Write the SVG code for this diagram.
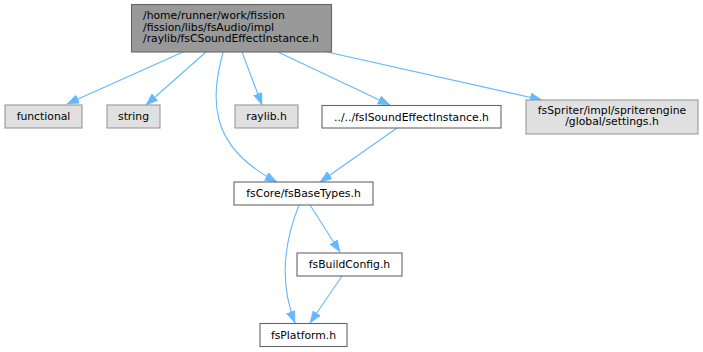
<svg xmlns="http://www.w3.org/2000/svg" width="703" height="352" viewBox="0 0 703 352">
<style>
text{font-family:"DejaVu Sans","Liberation Sans",sans-serif;font-size:10.8px;fill:#000}
.c{text-anchor:middle}
.top{fill:#999999;stroke:#666666;stroke-width:1.1}
.gray{fill:#e0e0e0;stroke:#999999;stroke-width:1.1}
.white{fill:#ffffff;stroke:#666666;stroke-width:1.1}
.e{fill:none;stroke:#63b8ff;stroke-width:1.1;marker-end:url(#a)}
</style>
<defs>
<marker id="a" markerUnits="userSpaceOnUse" markerWidth="13" markerHeight="10" refX="12" refY="4.5" orient="auto">
<path d="M0,0 L12,4.5 L0,9 z" fill="#63b8ff" stroke="#63b8ff" stroke-width="0.5"/>
</marker>
</defs>
<rect width="703" height="352" fill="#ffffff"/>
<g id="connectors">
<path class="e" d="M183,52 L67,104"/>
<path class="e" d="M206,52 L146,105"/>
<path class="e" d="M223,52 C212,95 205,145 277,182"/>
<path class="e" d="M242,52 L262,105"/>
<path class="e" d="M278,52 L390,105"/>
<path class="e" d="M327,52 L542,100"/>
<path class="e" d="M397,128 L320,182"/>
<path class="e" d="M310,205 L340,252"/>
<path class="e" d="M299,205 C285,240 278,280 295,323"/>
<path class="e" d="M342,276 L310,323"/>
</g>
<g id="node-main">
<rect class="top" x="131.5" y="4.5" width="200" height="47.5"/>
<text x="143" y="19">/home/runner/work/fission</text>
<text x="143" y="30.5">/fission/libs/fsAudio/impl</text>
<text x="143" y="42">/raylib/fsCSoundEffectInstance.h</text>
</g>
<g id="node-functional">
<rect class="gray" x="5" y="105" width="77" height="23"/>
<text class="c" x="43.5" y="120">functional</text>
</g>
<g id="node-string">
<rect class="gray" x="107" y="105" width="53" height="23"/>
<text class="c" x="133.5" y="120">string</text>
</g>
<g id="node-raylib">
<rect class="gray" x="235" y="105" width="63" height="23"/>
<text class="c" x="266.5" y="120">raylib.h</text>
</g>
<g id="node-fsISoundEffectInstance">
<rect class="white" x="322" y="105.5" width="179" height="22.5"/>
<text class="c" x="411.5" y="120.5">../../fsISoundEffectInstance.h</text>
</g>
<g id="node-settings">
<rect class="gray" x="526" y="100" width="172" height="34"/>
<text class="c" x="612" y="113.5">fsSpriter/impl/spriterengine</text>
<text class="c" x="612" y="125">/global/settings.h</text>
</g>
<g id="node-fsBaseTypes">
<rect class="white" x="234" y="182" width="139" height="23"/>
<text class="c" x="303.5" y="197">fsCore/fsBaseTypes.h</text>
</g>
<g id="node-fsBuildConfig">
<rect class="white" x="297" y="253" width="105" height="23"/>
<text class="c" x="349.5" y="268">fsBuildConfig.h</text>
</g>
<g id="node-fsPlatform">
<rect class="white" x="260" y="323.5" width="87" height="23"/>
<text class="c" x="303.5" y="338.5">fsPlatform.h</text>
</g>
</svg>
